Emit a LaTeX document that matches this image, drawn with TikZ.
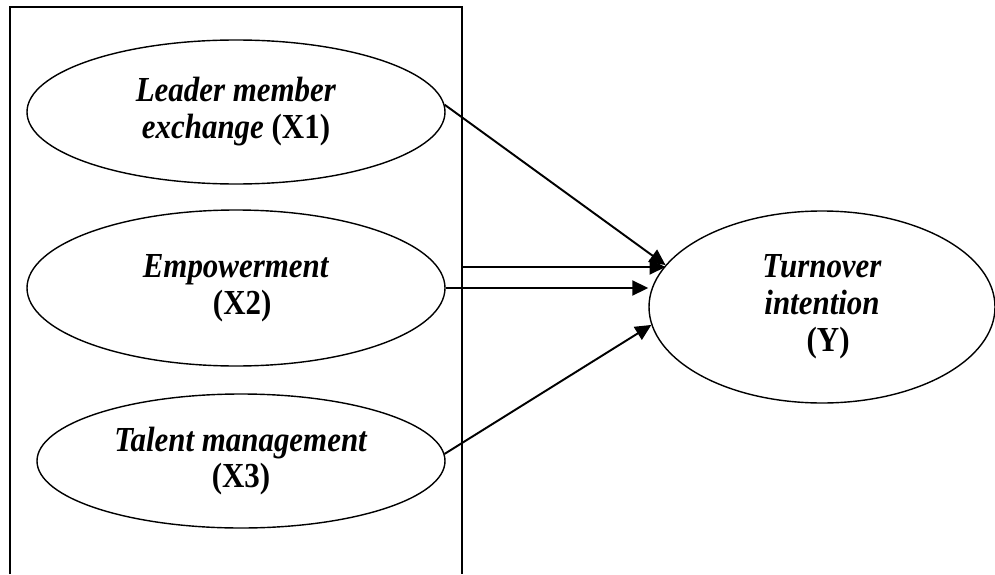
\documentclass[tikz,border=0pt]{standalone}
\usepackage{fontspec}
\setmainfont{Liberation Serif}[FakeStretch=0.88]
\usetikzlibrary{arrows.meta, positioning, shapes.geometric, calc}

\tikzset{
  latent/.style={draw, ellipse, line width=0.8pt, align=center, inner sep=0pt,
    font=\fontsize{20}{21}\selectfont\bfseries},
  link/.style={-{Triangle[length=3.2mm,width=3mm]}, line width=1.1pt}
}

\begin{document}
\begin{tikzpicture}[thick]
  \useasboundingbox (0,0) rectangle (19.9,11.48);

  % Frame round the independent variables (open at the bottom)
  \draw (0.2,0) -- (0.2,11.34) -- (9.24,11.34) -- (9.24,0);
  \coordinate (frame) at (9.24,6.14);

  % Independent variables
  \node[latent, minimum width=8.36cm, minimum height=2.88cm] (x1) at (4.72,9.24)
    {\textit{Leader member}\\\textit{exchange} (X1)};
  \node[latent, minimum width=8.36cm, minimum height=3.12cm] (x2) at (4.72,5.72)
    {\textit{Empowerment}\\\hspace*{0.35em}(X2)};
  \node[latent, minimum width=8.16cm, minimum height=2.68cm] (x3) at (4.82,2.26)
    {\textit{Talent management}\\(X3)};

  % Dependent variable
  \node[latent, minimum width=6.92cm, minimum height=3.84cm] (y) at (16.44,5.34)
    {\textit{Turnover}\\\textit{intention}\\\hspace*{0.35em}(Y)};

  % Paths
  \draw[link] (x1.2) -- (y.165);
  \draw[link] (frame) -- (frame -| y.165);
  \draw[link] (x2.east) -- (x2.east -| y.west);
  \draw[link] (x3.2) -- (y.186);
\end{tikzpicture}
\end{document}
